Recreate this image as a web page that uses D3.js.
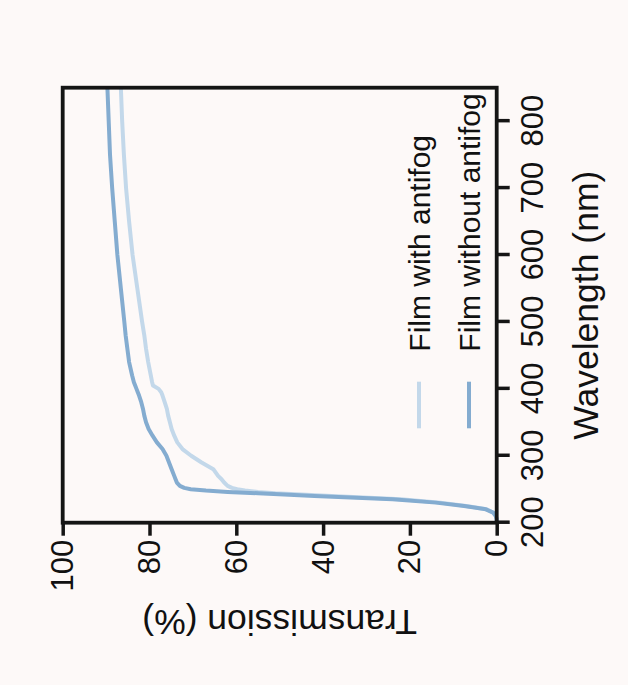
<!DOCTYPE html>
<html>
<head>
<meta charset="utf-8">
<script src="https://cdn.jsdelivr.net/npm/d3@7"></script>
<style>
  html, body { margin: 0; padding: 0; background: #fdf9f8; }
  svg { display: block; }
  text { font-family: "Liberation Sans", Arial, sans-serif; fill: #111; }
</style>
</head>
<body>
<svg id="chart" width="628" height="685"></svg>
<script>
// ---- data ----
const wavelengths = [200, 205, 210, 215, 220, 225, 230, 235, 240, 242, 244, 246, 248, 250, 252, 255, 260, 265, 270, 280, 290, 300, 310, 320, 330, 340, 350, 360, 370, 380, 390, 395, 400, 405, 410, 420, 440, 460, 480, 500, 550, 600, 650, 700, 750, 800, 850];
const withAntifog = [0, 0, 0.2, 0.8, 2.3, 7, 13, 22, 38, 45, 51, 55, 58, 59.8, 61, 62, 62.8, 63.4, 64.2, 65.3, 68, 70.4, 72.4, 73.6, 74.3, 74.9, 75.3, 75.7, 76.0, 76.5, 77.0, 77.3, 77.9, 79.2, 79.4, 79.7, 80.3, 80.8, 81.2, 81.7, 82.8, 83.9, 84.7, 85.4, 85.9, 86.3, 86.6];
const withoutAntifog = [0, 0, 0.2, 0.8, 2.5, 7.5, 14, 24, 42, 49, 55, 62, 67, 70.5, 72, 73.0, 73.7, 74.0, 74.3, 74.9, 75.5, 76.1, 77.0, 78.3, 79.3, 80.2, 80.8, 81.2, 81.5, 81.9, 82.4, 82.7, 83.0, 83.3, 83.6, 84.0, 84.7, 85.1, 85.5, 85.8, 86.6, 87.4, 88.0, 88.6, 89.1, 89.4, 89.7];
const seriesNames = ["Film with antifog", "Film without antifog"];
const seriesColors = ["#c3d8ea", "#84acd0"];
const wavelengthTicks = [200, 300, 400, 500, 600, 700, 800];
const transmissionTicks = [0, 20, 40, 60, 80, 100];
const xTitle = "Wavelength (nm)";
const yTitle = "Transmission (%)";

// ---- layout (chart drawn normally, then rotated -90deg) ----
const W = 435, H = 434;
const svg = d3.select("#chart");
const g = svg.append("g").attr("transform", "translate(62.7,522.7) rotate(-90)");

const x = d3.scaleLinear().domain([200, 850]).range([0, W]);
const y = d3.scaleLinear().domain([0, 100]).range([H, 0]);

const series = [withAntifog, withoutAntifog];
const line = d3.line().x(d => x(d[0])).y(d => y(d[1]));

series.forEach((vals, i) => {
  g.append("path")
    .datum(wavelengths.map((w, k) => [w, vals[k]]))
    .attr("fill", "none")
    .attr("stroke", seriesColors[i])
    .attr("stroke-width", 4)
    .attr("stroke-linejoin", "round")
    .attr("d", line);
});

// axes
const xAxis = g.append("g").attr("transform", `translate(0,${H})`)
  .call(d3.axisBottom(x).tickValues(wavelengthTicks).tickSize(13).tickPadding(11).tickFormat(d3.format("d")));
const yAxis = g.append("g")
  .call(d3.axisLeft(y).tickValues(transmissionTicks).tickSize(13).tickPadding(4).tickFormat(d3.format("d")));
[xAxis, yAxis].forEach(a => {
  a.select(".domain").remove();
  a.selectAll(".tick line").attr("stroke", "#151515").attr("stroke-width", 3.5);
  a.selectAll(".tick text").attr("font-size", 31).attr("fill", "#111")
    .attr("font-family", "Liberation Sans, Arial, sans-serif");
});

// frame
g.append("rect").attr("x", 0).attr("y", 0).attr("width", W).attr("height", H)
  .attr("fill", "none").attr("stroke", "#151515").attr("stroke-width", 3.8);

// titles
g.append("text").attr("x", W / 2).attr("y", H + 101)
  .attr("text-anchor", "middle").attr("font-size", 35.5).text(xTitle);
g.append("text").attr("transform", `translate(-87,${H / 2}) rotate(-90)`)
  .attr("text-anchor", "middle").attr("font-size", 35.5).text(yTitle);

// legend
const legendY = [356.3, 406.3];
seriesNames.forEach((name, i) => {
  g.append("line").attr("x1", 94.4).attr("x2", 141)
    .attr("y1", legendY[i]).attr("y2", legendY[i])
    .attr("stroke", seriesColors[i]).attr("stroke-width", 4);
  g.append("text").attr("x", 171).attr("y", legendY[i]).attr("dy", "0.36em")
    .attr("font-size", 30).text(name);
});
</script>
</body>
</html>
